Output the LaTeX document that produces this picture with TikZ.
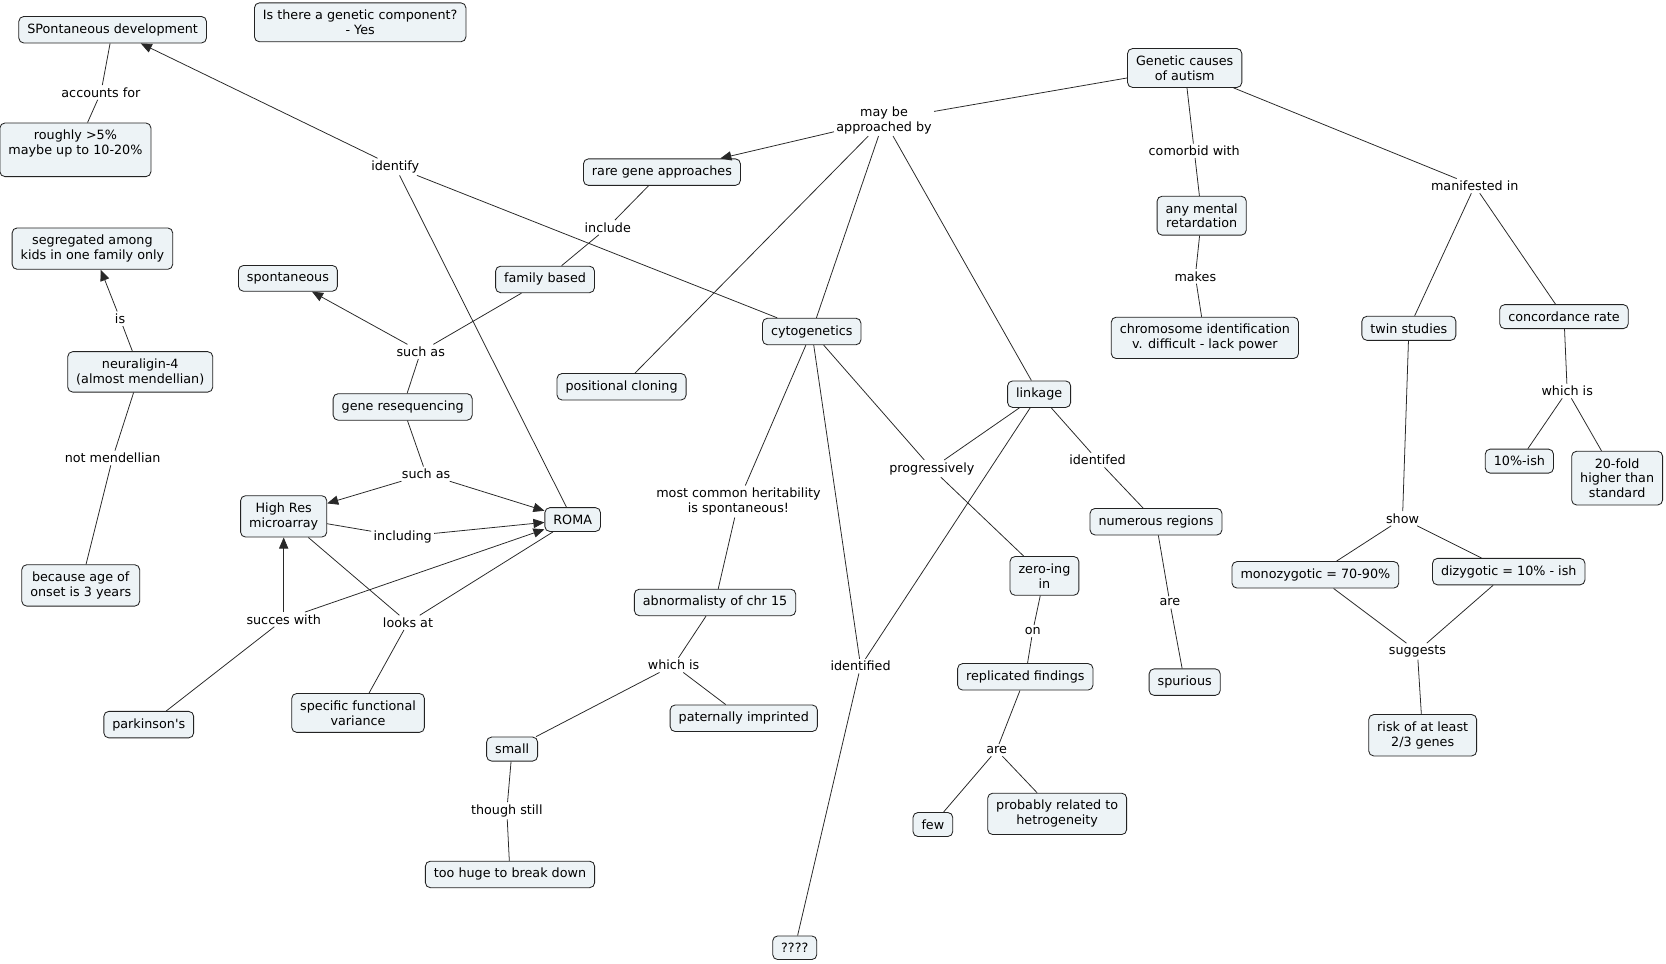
\documentclass[tikz,border=0pt]{standalone}
\usepackage{fontspec}
\setmainfont{DejaVu Sans}[Ligatures=TeXOff]
\usetikzlibrary{arrows.meta}
\definecolor{boxfill}{RGB}{237,243,246}
\definecolor{boxline}{RGB}{35,35,35}
\definecolor{conn}{RGB}{40,40,40}
\newcommand\fsz{\fontsize{9}{10.5}\selectfont}
\begin{document}
\begin{tikzpicture}[x=0.75pt,y=-0.75pt,
  concept/.style={draw=boxline, fill=boxfill, rounded corners=3.5pt, line width=0.6pt,
     align=center, inner xsep=6pt, inner ysep=5pt, font=\fsz},
  link/.style={align=center, inner sep=1.5pt, font=\fsz},
  con/.style={draw=conn, line width=0.55pt},
  arr/.style={con, -{Triangle[length=7.8pt,width=6.5pt]}}]
\useasboundingbox (0,0) rectangle (1568,907.3);
% concepts
\node[concept] (spdev) at (106,28) {SPontaneous development};
\node[concept] (genq) at (339,21) {Is there a genetic component?\\- Yes};
\node[concept] (rough) at (71,141) {roughly >5\%\\maybe up to 10-20\%\\\mbox{}};
\node[concept] (seg) at (87,234) {segregated among\\kids in one family only};
\node[concept] (spont) at (271,262) {spontaneous};
\node[concept] (famb) at (513,263) {family based};
\node[concept] (rare) at (623,162) {rare gene approaches};
\node[concept] (gca) at (1115,64) {Genetic causes\\of autism};
\node[concept] (amr) at (1131,203) {any mental\\retardation};
\node[concept] (chrid) at (1134,318) {chromosome identification\\v. difficult - lack power};
\node[concept] (twin) at (1326,309) {twin studies};
\node[concept] (conc) at (1472,298) {concordance rate};
\node[concept] (tenish) at (1430,434) {10\%-ish};
\node[concept] (twenty) at (1522,450) {20-fold\\higher than\\standard};
\node[concept] (mono) at (1238,541) {monozygotic = 70-90\%};
\node[concept] (diz) at (1420,538) {dizygotic = 10\% - ish};
\node[concept] (risk) at (1339,692) {risk of at least\\2/3 genes};
\node[concept] (cyto) at (764,312) {cytogenetics};
\node[concept] (poscl) at (585,364) {positional cloning};
\node[concept] (linkage) at (978,371) {linkage};
\node[concept] (numreg) at (1088,491) {numerous regions};
\node[concept] (spur) at (1115,642) {spurious};
\node[concept] (zero) at (983,542) {zero-ing\\in};
\node[concept] (repl) at (965,637) {replicated findings};
\node[concept] (few) at (878,776) {few};
\node[concept] (prob) at (995,766) {probably related to\\hetrogeneity};
\node[concept] (abn) at (673,567) {abnormalisty of chr 15};
\node[concept] (small) at (482,705) {small};
\node[concept] (patimp) at (700,676) {paternally imprinted};
\node[concept] (huge) at (480,823) {too huge to break down};
\node[concept] (qqqq) at (748,892) {????};
\node[concept] (neur) at (132,350) {neuraligin-4\\(almost mendellian)};
\node[concept] (because) at (76,551) {because age of\\onset is 3 years};
\node[concept] (generes) at (379,383) {gene resequencing};
\node[concept] (highres) at (267,486) {High Res\\microarray};
\node[concept] (roma) at (539,489) {ROMA};
\node[concept] (park) at (140,682) {parkinson's};
\node[concept] (specf) at (337,671) {specific functional\\variance};
% linking phrases
\node[link] (accounts) at (95,87) {accounts for};
\node[link] (identify) at (372,157) {identify};
\node[link] (is) at (113,300) {is};
\node[link] (notmend) at (106,431) {not mendellian};
\node[link] (suchas1) at (396,331) {such as};
\node[link] (include) at (572,214) {include};
\node[link] (suchas2) at (401,446) {such as};
\node[link] (including) at (379,505) {including};
\node[link] (succes) at (267,583) {succes with};
\node[link] (looks) at (384,586) {looks at};
\node[link] (maybe) at (832,113) {may be\\approached by};
\node[link] (comorbid) at (1124,142) {comorbid with};
\node[link] (makes) at (1125,260) {makes};
\node[link] (manif) at (1388,175) {manifested in};
\node[link] (whichis2) at (1475,368) {which is};
\node[link] (show) at (1320,488) {show};
\node[link] (suggests) at (1334,613) {suggests};
\node[link] (mostc) at (695,472) {most common heritability\\is spontaneous!};
\node[link] (progr) at (877,441) {progressively};
\node[link] (identifed) at (1033,433) {identifed};
\node[link] (are1) at (1101,567) {are};
\node[link] (on) at (972,594) {on};
\node[link] (are2) at (938,706) {are};
\node[link] (whichis1) at (634,626) {which is};
\node[link] (though) at (477,763) {though still};
\node[link] (identified) at (810,627) {identified};
% connectors
\draw[con] (spdev) -- (accounts);
\draw[con] (accounts) -- (rough);
\draw[arr] (identify) -- (spdev);
\draw[con] (roma) -- (identify);
\draw[con] (identify) -- (cyto);
\draw[con] (neur) -- (is);
\draw[arr] (is) -- (seg);
\draw[con] (neur) -- (notmend);
\draw[con] (notmend) -- (because);
\draw[con] (famb) -- (suchas1);
\draw[arr] (suchas1) -- (spont);
\draw[con] (suchas1) -- (generes);
\draw[con] (rare) -- (include);
\draw[con] (include) -- (famb);
\draw[con] (generes) -- (suchas2);
\draw[arr] (suchas2) -- (highres);
\draw[arr] (suchas2) -- (roma);
\draw[con] (highres) -- (including);
\draw[arr] (including) -- (roma);
\draw[con] (park) -- (succes);
\draw[arr] (succes) -- (highres);
\draw[arr] (succes) -- (roma);
\draw[con] (highres) -- (looks);
\draw[con] (roma) -- (looks);
\draw[con] (looks) -- (specf);
\draw[con] (gca) -- (maybe);
\draw[arr] (maybe) -- (rare);
\draw[con] (maybe) -- (poscl);
\draw[con] (maybe) -- (cyto);
\draw[con] (maybe) -- (linkage);
\draw[con] (gca) -- (comorbid);
\draw[con] (comorbid) -- (amr);
\draw[con] (amr) -- (makes);
\draw[con] (makes) -- (chrid);
\draw[con] (gca) -- (manif);
\draw[con] (manif) -- (twin);
\draw[con] (manif) -- (conc);
\draw[con] (conc) -- (whichis2);
\draw[con] (whichis2) -- (tenish);
\draw[con] (whichis2) -- (twenty);
\draw[con] (twin) -- (show);
\draw[con] (show) -- (mono);
\draw[con] (show) -- (diz);
\draw[con] (mono) -- (suggests);
\draw[con] (diz) -- (suggests);
\draw[con] (suggests) -- (risk);
\draw[con] (cyto) -- (mostc);
\draw[con] (mostc) -- (abn);
\draw[con] (cyto) -- (identified);
\draw[con] (linkage) -- (identified);
\draw[con] (identified) -- (qqqq);
\draw[con] (cyto) -- (progr);
\draw[con] (linkage) -- (progr);
\draw[con] (progr) -- (zero);
\draw[con] (linkage) -- (identifed);
\draw[con] (identifed) -- (numreg);
\draw[con] (numreg) -- (are1);
\draw[con] (are1) -- (spur);
\draw[con] (zero) -- (on);
\draw[con] (on) -- (repl);
\draw[con] (repl) -- (are2);
\draw[con] (are2) -- (few);
\draw[con] (are2) -- (prob);
\draw[con] (abn) -- (whichis1);
\draw[con] (whichis1) -- (small);
\draw[con] (whichis1) -- (patimp);
\draw[con] (small) -- (though);
\draw[con] (though) -- (huge);
\end{tikzpicture}
\end{document}
